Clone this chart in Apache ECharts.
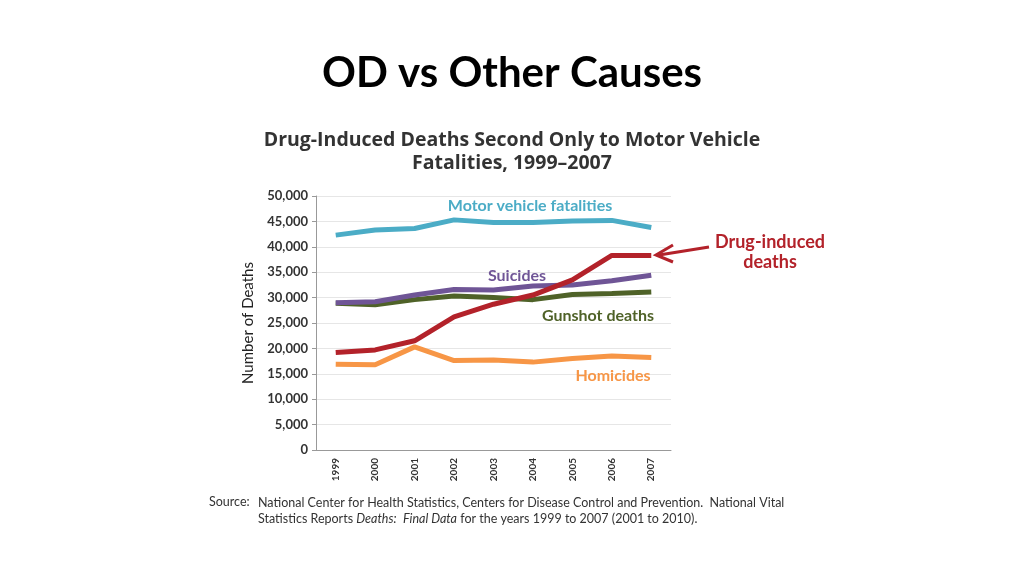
<!DOCTYPE html>
<html>
<head>
<meta charset="utf-8">
<script src="https://cdn.jsdelivr.net/npm/echarts@6/dist/echarts.min.js"></script>
<style>
  html, body { margin: 0; padding: 0; background: #fff; }
  #chart { width: 1024px; height: 576px; }
</style>
</head>
<body>
<div id="chart"></div>
<script>
const years = ['1999', '2000', '2001', '2002', '2003', '2004', '2005', '2006', '2007']
const motorVehicle = [42300, 43300, 43600, 45300, 44800, 44800, 45100, 45200, 43800]
const drugInduced = [19200, 19700, 21500, 26200, 28700, 30500, 33500, 38300, 38300]
const suicides = [29000, 29200, 30500, 31600, 31500, 32300, 32500, 33300, 34400]
const gunshot = [28900, 28600, 29600, 30300, 30000, 29600, 30600, 30800, 31100]
const homicides = [16900, 16800, 20300, 17600, 17700, 17300, 18000, 18500, 18200]

const font = 'Lato, "Open Sans", sans-serif'
const wide = '"Open Sans", Lato, sans-serif'
const red = '#B3222A'

const chart = echarts.init(document.getElementById('chart'))

const line = (name, data, color, z) => ({
    name,
    type: 'line',
    data,
    symbol: 'none',
    z,
    lineStyle: { color, width: 5 }
})

// centred text, placed by its middle point
const tag = (text, x, y, color, size, fam = font, weight = 'bold') => ({
    type: 'text',
    x,
    y,
    z: 100,
    style: {
        text,
        fill: color,
        font: `${weight} ${size}px ${fam}`,
        textAlign: 'center',
        textVerticalAlign: 'middle'
    }
})

chart.setOption({
    animation: false,
    grid: { left: 316, right: 353, top: 196, bottom: 126 },
    xAxis: {
        type: 'category',
        data: years,
        axisLine: { lineStyle: { color: '#999' } },
        axisTick: { lineStyle: { color: '#999' }, length: 4 },
        axisLabel: { rotate: 90, color: '#333', fontSize: 10, fontWeight: 'bold', fontFamily: font, margin: 8 }
    },
    yAxis: {
        type: 'value',
        min: 0,
        max: 50000,
        interval: 5000,
        name: 'Number of Deaths',
        nameLocation: 'middle',
        nameGap: 60,
        nameTextStyle: { fontFamily: font, fontSize: 15, color: '#222' },
        axisLine: { show: true, lineStyle: { color: '#999' } },
        axisTick: { show: true, lineStyle: { color: '#999' }, length: 4 },
        splitLine: { lineStyle: { color: '#e6e6e6' } },
        axisLabel: {
            color: '#333',
            fontSize: 13,
            fontWeight: 'bold',
            fontFamily: font,
            formatter: v => v.toLocaleString('en-US')
        }
    },
    series: [
        line('Homicides', homicides, '#F79646', 2),
        line('Gunshot deaths', gunshot, '#4F6228', 3),
        line('Suicides', suicides, '#6F5596', 4),
        line('Motor vehicle fatalities', motorVehicle, '#4BACC6', 5),
        line('Drug-induced deaths', drugInduced, red, 6)
    ],
    graphic: [
        tag('OD vs Other Causes', 512, 73, '#000', 42),
        tag('Drug-Induced Deaths Second Only to Motor Vehicle', 512, 140, '#333', 19.5, wide),
        tag('Fatalities, 1999\u20132007', 512, 163, '#333', 19.5, wide),
        tag('Motor vehicle fatalities', 530, 206, '#4BACC6', 16),
        tag('Suicides', 517, 276, '#6F5596', 16),
        tag('Gunshot deaths', 598, 316, '#4F6228', 16),
        tag('Homicides', 613, 376, '#F79646', 16),
        tag('Drug-induced', 770, 242, red, 18),
        tag('deaths', 770, 262, red, 18),
        {
            type: 'line',
            z: 100,
            shape: { x1: 709, y1: 247, x2: 659, y2: 255 },
            style: { stroke: red, lineWidth: 3 }
        },
        {
            type: 'polyline',
            z: 100,
            shape: { points: [[673, 245], [656, 255], [673, 262]] },
            style: { stroke: red, lineWidth: 3, fill: null }
        },
        {
            type: 'text',
            left: 209,
            top: 495,
            style: { text: 'Source:', fill: '#333', font: `12.5px ${font}` }
        },
        {
            type: 'text',
            left: 258,
            top: 495,
            style: {
                text: 'National Center for Health Statistics, Centers for Disease Control and Prevention.  National Vital\nStatistics Reports {i|Deaths:}  {i|Final Data} for the years 1999 to 2007 (2001 to 2010).',
                fill: '#333',
                font: `12.5px ${font}`,
                lineHeight: 16,
                rich: { i: { fontStyle: 'italic', fontSize: 12.5, fontFamily: font, fill: '#333' } }
            }
        }
    ]
})
</script>
</body>
</html>
